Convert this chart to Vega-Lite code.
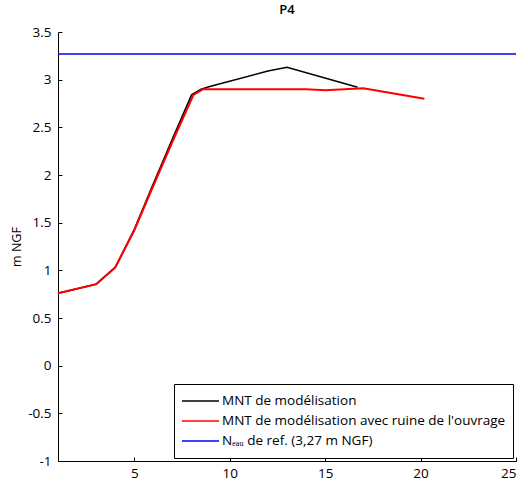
{
  "$schema": "https://vega.github.io/schema/vega-lite/v6.json",
  "autosize": "none",
  "width": 458,
  "height": 429,
  "padding": {"left": 58, "top": 32, "right": 12, "bottom": 23},
  "background": "white",
  "title": {"text": "P4", "fontSize": 13, "fontWeight": 600, "font": "Open Sans", "color": "#000", "offset": 8},
  "config": {
    "view": {"stroke": null},
    "font": "Open Sans",
    "axis": {"grid": false, "domainColor": "#000", "tickColor": "#000", "labelColor": "#000", "titleColor": "#000", "labelFont": "Open Sans", "titleFont": "Open Sans", "labelFontSize": 13.5, "titleFontSize": 12.5, "titleFontWeight": "normal", "tickSize": -4, "domainWidth": 1}
  },
  "datasets": {
    "lines": [
      {"s": "MNT de modélisation", "x": 1, "y": 0.76},
      {"s": "MNT de modélisation", "x": 3, "y": 0.855},
      {"s": "MNT de modélisation", "x": 4, "y": 1.03},
      {"s": "MNT de modélisation", "x": 5, "y": 1.43},
      {"s": "MNT de modélisation", "x": 6, "y": 1.91},
      {"s": "MNT de modélisation", "x": 7, "y": 2.38},
      {"s": "MNT de modélisation", "x": 8, "y": 2.84},
      {"s": "MNT de modélisation", "x": 8.5, "y": 2.9},
      {"s": "MNT de modélisation", "x": 9, "y": 2.93},
      {"s": "MNT de modélisation", "x": 12, "y": 3.09},
      {"s": "MNT de modélisation", "x": 13, "y": 3.13},
      {"s": "MNT de modélisation", "x": 16.7, "y": 2.92},
      {"s": "MNT de modélisation avec ruine de l'ouvrage", "x": 1, "y": 0.76},
      {"s": "MNT de modélisation avec ruine de l'ouvrage", "x": 3, "y": 0.855},
      {"s": "MNT de modélisation avec ruine de l'ouvrage", "x": 4, "y": 1.03},
      {"s": "MNT de modélisation avec ruine de l'ouvrage", "x": 5, "y": 1.42},
      {"s": "MNT de modélisation avec ruine de l'ouvrage", "x": 6, "y": 1.89},
      {"s": "MNT de modélisation avec ruine de l'ouvrage", "x": 7, "y": 2.35},
      {"s": "MNT de modélisation avec ruine de l'ouvrage", "x": 8.1, "y": 2.84},
      {"s": "MNT de modélisation avec ruine de l'ouvrage", "x": 8.6, "y": 2.9},
      {"s": "MNT de modélisation avec ruine de l'ouvrage", "x": 14, "y": 2.9},
      {"s": "MNT de modélisation avec ruine de l'ouvrage", "x": 15, "y": 2.89},
      {"s": "MNT de modélisation avec ruine de l'ouvrage", "x": 17, "y": 2.91},
      {"s": "MNT de modélisation avec ruine de l'ouvrage", "x": 20.2, "y": 2.8},
      {"s": "Nₑₐᵤ de ref. (3,27 m NGF)", "x": 1, "y": 3.27},
      {"s": "Nₑₐᵤ de ref. (3,27 m NGF)", "x": 25, "y": 3.27}
    ]
  },
  "data": {"name": "lines"},
  "encoding": {
    "x": {"field": "x", "type": "quantitative", "scale": {"domain": [1, 25], "nice": false, "zero": false}, "axis": {"values": [5, 10, 15, 20, 25], "title": null, "labelPadding": 9}},
    "y": {"field": "y", "type": "quantitative", "scale": {"domain": [-1, 3.5], "nice": false, "zero": false}, "axis": {"values": [-1, -0.5, 0, 0.5, 1, 1.5, 2, 2.5, 3, 3.5], "format": "~g", "labelExpr": "replace(datum.label, '−', '-')", "title": "m NGF", "labelPadding": 11, "titlePadding": 4}},
    "color": {"field": "s", "type": "nominal", "title": null,
      "scale": {"domain": ["MNT de modélisation", "MNT de modélisation avec ruine de l'ouvrage", "Nₑₐᵤ de ref. (3,27 m NGF)"], "range": ["#000000", "#ff0000", "#0000ff"]},
      "legend": {"orient": "bottom-right", "offset": 3, "symbolType": "stroke", "symbolSize": 1369, "symbolStrokeWidth": 1.5, "labelFontSize": 13.5, "labelFont": "Open Sans", "labelColor": "#000", "labelLimit": 400, "strokeColor": "#000", "fillColor": "white", "padding": 7, "rowPadding": 0, "clipHeight": 20, "labelOffset": 2, "symbolOffset": 0}}
  },
  "layer": [
    {"transform": [{"filter": "datum.s == 'MNT de modélisation'"}], "mark": {"type": "line", "strokeWidth": 1.6}},
    {"transform": [{"filter": "datum.s == \"MNT de modélisation avec ruine de l'ouvrage\""}], "mark": {"type": "line", "strokeWidth": 2}},
    {"transform": [{"filter": "datum.s == 'Nₑₐᵤ de ref. (3,27 m NGF)'"}], "mark": {"type": "line", "strokeWidth": 1.6}}
  ]
}
